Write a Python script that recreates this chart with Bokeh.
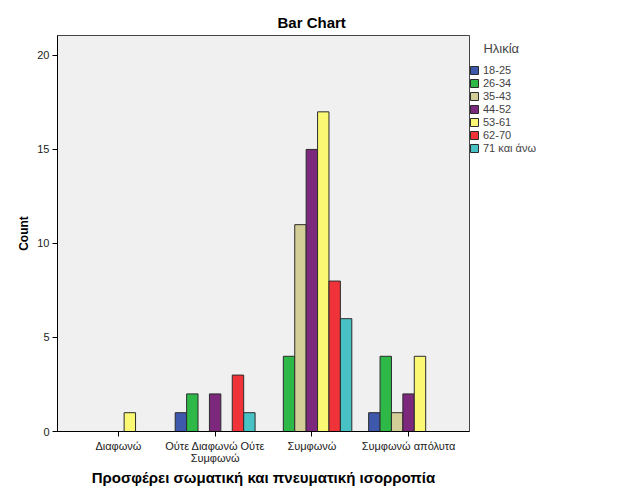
from bokeh.plotting import figure
from bokeh.models import FactorRange, Range1d, Legend, LegendItem, FixedTicker, ColumnDataSource
from bokeh.transform import dodge
from bokeh.embed import file_html
from bokeh.resources import INLINE

categories = ["Διαφωνώ", "Ούτε Διαφωνώ Ούτε\nΣυμφωνώ", "Συμφωνώ", "Συμφωνώ απόλυτα"]
age_groups = ["18-25", "26-34", "35-43", "44-52", "53-61", "62-70", "71 και άνω"]
colors = ["#3E58AC", "#2EB848", "#D3CE97", "#7C287D", "#FBF873", "#EF3338", "#48C2C5"]

counts_18_25 = [0, 1, 0, 1]
counts_26_34 = [0, 2, 4, 4]
counts_35_43 = [0, 0, 11, 1]
counts_44_52 = [0, 2, 15, 2]
counts_53_61 = [1, 0, 17, 4]
counts_62_70 = [0, 3, 8, 0]
counts_71_plus = [0, 1, 6, 0]
series = [counts_18_25, counts_26_34, counts_35_43, counts_44_52,
          counts_53_61, counts_62_70, counts_71_plus]

data = {"cat": categories}
for i, s in enumerate(series):
    data["s%d" % i] = s
src = ColumnDataSource(data)

p = figure(frame_width=412, frame_height=396, output_backend="svg", toolbar_location=None,
           x_range=FactorRange(factors=categories, range_padding=0.13,
                               range_padding_units="absolute"),
           y_range=Range1d(0, 21.06),
           min_border_left=57, min_border_right=157, min_border_top=35,
           min_border_bottom=70)
p.background_fill_color = "#F0F0F0"
p.border_fill_color = "white"
p.outline_line_color = "#444444"
p.outline_line_width = 1
p.grid.visible = False

bw = 0.118
items = []
for i, (name, col) in enumerate(zip(age_groups, colors)):
    r = p.vbar(x=dodge("cat", (i - 3) * bw, range=p.x_range), top="s%d" % i,
               width=bw, source=src, fill_color=col, line_color="#2b2b2b",
               line_width=1)
    items.append(LegendItem(label=name, renderers=[r]))

p.title.text = "Bar Chart"
p.title.align = "left"
p.title.offset = 220
p.title.text_font = "Liberation Sans"
p.title.text_font_size = "15px"
p.title.text_font_style = "bold"
p.title.text_color = "black"

p.yaxis.ticker = FixedTicker(ticks=[0, 5, 10, 15, 20])
p.yaxis.axis_label = "Count"
p.xaxis.axis_label = "Προσφέρει σωματική και πνευματική ισορροπία"
for ax in (p.xaxis[0], p.yaxis[0]):
    ax.axis_label_text_font = "Liberation Sans"
    ax.axis_label_text_font_style = "bold"
    ax.axis_label_text_font_size = "15px"
    ax.axis_label_text_color = "black"
    ax.major_label_text_font = "Liberation Sans"
    ax.major_label_text_font_size = "11px"
    ax.major_label_text_color = "#222222"
    ax.axis_line_color = "black"
    ax.major_tick_line_color = "black"
    ax.major_tick_out = 5
    ax.major_tick_in = 0
    ax.minor_tick_line_color = None
p.yaxis.axis_label_text_font_size = "12px"
p.yaxis.axis_label_standoff = 3
p.yaxis.major_label_standoff = 3
p.xaxis.axis_label_standoff = 2
p.xaxis.major_label_standoff = 3
p.xaxis.major_label_text_line_height = 1.0

legend = Legend(items=items, location=(0, 277), title="\u00a0\u00a0\u00a0\u00a0Ηλικία",
                title_text_font="Liberation Sans", title_text_font_size="13px",
                title_text_font_style="normal", title_standoff=8,
                label_text_font="Liberation Sans", label_text_font_size="11px",
                glyph_width=10, glyph_height=10, label_height=10,
                label_standoff=4, spacing=1, padding=5, margin=0,
                background_fill_alpha=0, border_line_color=None)
p.add_layout(legend, "right")

open("out.html", "w").write(file_html(p, INLINE))
